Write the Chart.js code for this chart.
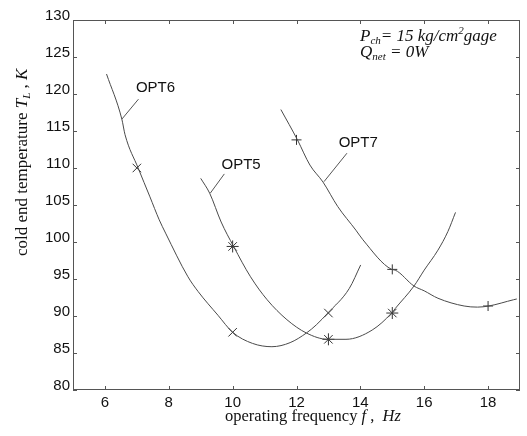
<!DOCTYPE html>
<html>
<head>
<meta charset="utf-8">
<script src="https://cdn.jsdelivr.net/npm/chart.js@4/dist/chart.umd.min.js"></script>
<style>
  html, body { margin: 0; padding: 0; background: #fff; }
  #wrap { width: 527px; height: 436px; }
</style>
</head>
<body>
<div id="wrap"><canvas id="grafico" width="527" height="436"></canvas></div>
<script>
// tick labels
const xTicks = [6, 8, 10, 12, 14, 16, 18];
const yTicks = [80, 85, 90, 95, 100, 105, 110, 115, 120, 125, 130];

// OPT6 curve
const opt6F = [6.05, 6.53, 6.63, 7.04, 7.41, 7.7, 7.9, 8.6, 8.92, 9.54, 10.0, 10.62, 11.23, 11.8, 12.31, 12.62, 12.98, 13.65, 14.01];
const opt6T = [122.7, 116.6, 114.5, 110.0, 106.1, 103.0, 101.2, 95.3, 93.3, 90.1, 87.8, 86.3, 85.85, 86.4, 87.7, 88.8, 90.4, 93.7, 96.9];
const opt6MarkF = [7, 10, 13];
const opt6MarkT = [110.0, 87.8, 90.4];

// OPT5 curve
const opt5F = [9.0, 9.28, 9.64, 10.03, 10.56, 11.08, 11.7, 12.31, 12.98, 13.55, 14.37, 14.98, 15.09, 15.68, 16.0, 16.43, 16.74, 16.98];
const opt5T = [108.6, 106.6, 102.7, 99.4, 95.3, 92.2, 89.5, 87.7, 86.85, 86.85, 88.1, 90.4, 91.0, 94.05, 96.2, 98.9, 101.4, 104.0];
const opt5MarkF = [10, 13, 15];
const opt5MarkT = [99.4, 86.85, 90.4];

// OPT7 curve
const opt7F = [11.51, 12.03, 12.42, 12.83, 13.29, 13.86, 14.08, 14.98, 15.09, 15.68, 16.0, 16.43, 17.25, 17.67, 18.02, 18.8, 18.9];
const opt7T = [117.9, 113.8, 110.4, 108.1, 104.8, 101.6, 100.3, 96.3, 96.2, 94.05, 93.4, 92.4, 91.35, 91.2, 91.35, 92.2, 92.3];
const opt7MarkF = [12, 15, 18];
const opt7MarkT = [113.8, 96.3, 91.35];

function pares(fs, ts) {
    return fs.map((f, i) => ({ x: f, y: ts[i] }));
}

const corLinha = '#4a4a4a';

function curva(fs, ts) {
    return {
        data: pares(fs, ts),
        showLine: true,
        borderColor: corLinha,
        borderWidth: 1,
        pointRadius: 0,
        cubicInterpolationMode: 'monotone'
    };
}

function marcas(fs, ts, estilo, raio) {
    return {
        data: pares(fs, ts),
        showLine: false,
        pointStyle: estilo,
        pointRadius: raio,
        borderColor: '#333',
        borderWidth: 1,
        backgroundColor: 'transparent'
    };
}

// desenha moldura, ticks internos, rótulos e anotações
const extras = {
    id: 'extras',
    afterDraw(chart) {
        const { ctx, chartArea: a, scales } = chart;
        const sx = scales.x, sy = scales.y;
        ctx.save();
        ctx.strokeStyle = '#555';
        ctx.lineWidth = 1;
        ctx.strokeRect(a.left + 0.5, a.top + 0.5, a.right - a.left - 1, a.bottom - a.top - 1);
        ctx.beginPath();
        xTicks.forEach(v => {
            const px = Math.round(sx.getPixelForValue(v)) + 0.5;
            ctx.moveTo(px, a.bottom); ctx.lineTo(px, a.bottom - 4);
            ctx.moveTo(px, a.top); ctx.lineTo(px, a.top + 4);
        });
        yTicks.forEach(v => {
            const py = Math.round(sy.getPixelForValue(v)) + 0.5;
            ctx.moveTo(a.left, py); ctx.lineTo(a.left + 4, py);
            ctx.moveTo(a.right, py); ctx.lineTo(a.right - 4, py);
        });
        ctx.stroke();

        // rótulos das curvas
        const rotulos = [
            { t: 'OPT6', f: 6.97, T: 120.77, l1: [7.05, 119.3], l2: [6.53, 116.6] },
            { t: 'OPT5', f: 9.65, T: 110.45, l1: [9.74, 109.2], l2: [9.3, 106.6] },
            { t: 'OPT7', f: 13.32, T: 113.45, l1: [13.58, 112.0], l2: [12.86, 108.15] }
        ];
        ctx.fillStyle = '#111';
        ctx.font = '15px "Liberation Sans", Arial, sans-serif';
        ctx.textBaseline = 'middle';
        ctx.textAlign = 'left';
        ctx.strokeStyle = '#555';
        rotulos.forEach(r => {
            ctx.fillText(r.t, sx.getPixelForValue(r.f), sy.getPixelForValue(r.T));
            ctx.beginPath();
            ctx.moveTo(sx.getPixelForValue(r.l1[0]), sy.getPixelForValue(r.l1[1]));
            ctx.lineTo(sx.getPixelForValue(r.l2[0]), sy.getPixelForValue(r.l2[1]));
            ctx.stroke();
        });

        // texto com partes em itálico / sub / sobrescrito
        function trecho(partes, x, y) {
            partes.forEach(p => {
                ctx.font = p[1];
                const dy = p[2] || 0;
                ctx.fillText(p[0], x, y + dy);
                x += ctx.measureText(p[0]).width;
            });
        }
        const serif = '"Liberation Serif", "Times New Roman", serif';
        const it = 'italic 17px ' + serif;
        const itS = 'italic 11px ' + serif;
        ctx.textBaseline = 'alphabetic';
        trecho([['P', it], ['ch', itS, 3], ['= 15 kg/cm', it], ['2', itS, -7], ['gage', it]], 360, 41);
        trecho([['Q', it], ['net', itS, 3], [' = 0W', it]], 360, 57);

        // título eixo x
        const reg = '16.5px ' + serif;
        const itM = 'italic 16.5px ' + serif;
        trecho([['operating frequency ', reg], ['f', itM], [' ,  ', reg], ['Hz', itM]], 225, 421);

        // título eixo y
        const regY = '17px ' + serif;
        const itY = 'italic 17px ' + serif;
        ctx.translate(27, 256);
        ctx.rotate(-Math.PI / 2);
        trecho([['cold end temperature ', regY], ['T', itY], ['L', 'italic 11px ' + serif, 3], [' , ', regY], ['K', itY]], 0, 0);
        ctx.restore();
    }
};

const ctxGraf = document.getElementById('grafico').getContext('2d');
new Chart(ctxGraf, {
    type: 'scatter',
    data: {
        datasets: [
            curva(opt6F, opt6T),
            curva(opt5F, opt5T),
            curva(opt7F, opt7T),
            marcas(opt6MarkF, opt6MarkT, 'crossRot', 6),
            marcas(opt5MarkF, opt5MarkT, 'star', 6),
            marcas(opt7MarkF, opt7MarkT, 'cross', 5)
        ]
    },
    options: {
        responsive: false,
        animation: false,
        layout: { padding: { top: 20, right: 2, left: 0, bottom: 0 } },
        plugins: {
            legend: { display: false },
            tooltip: { enabled: false }
        },
        scales: {
            x: {
                type: 'linear',
                min: 5,
                max: 19,
                grid: { display: false, drawTicks: false },
                border: { display: false },
                afterBuildTicks: s => { s.ticks = xTicks.map(v => ({ value: v })); },
                afterFit: s => { s.height = 46; },
                ticks: {
                    padding: 4,
                    color: '#111',
                    font: { family: '"Liberation Sans", Arial, sans-serif', size: 15 },
                    maxRotation: 0
                }
            },
            y: {
                type: 'linear',
                min: 80,
                max: 130,
                grid: { display: false, drawTicks: false },
                border: { display: false },
                afterBuildTicks: s => { s.ticks = yTicks.map(v => ({ value: v })); },
                afterFit: s => { s.width = 73; },
                ticks: {
                    padding: 3,
                    labelOffset: -4,
                    color: '#111',
                    font: { family: '"Liberation Sans", Arial, sans-serif', size: 15 }
                }
            }
        }
    },
    plugins: [extras]
});
</script>
</body>
</html>
